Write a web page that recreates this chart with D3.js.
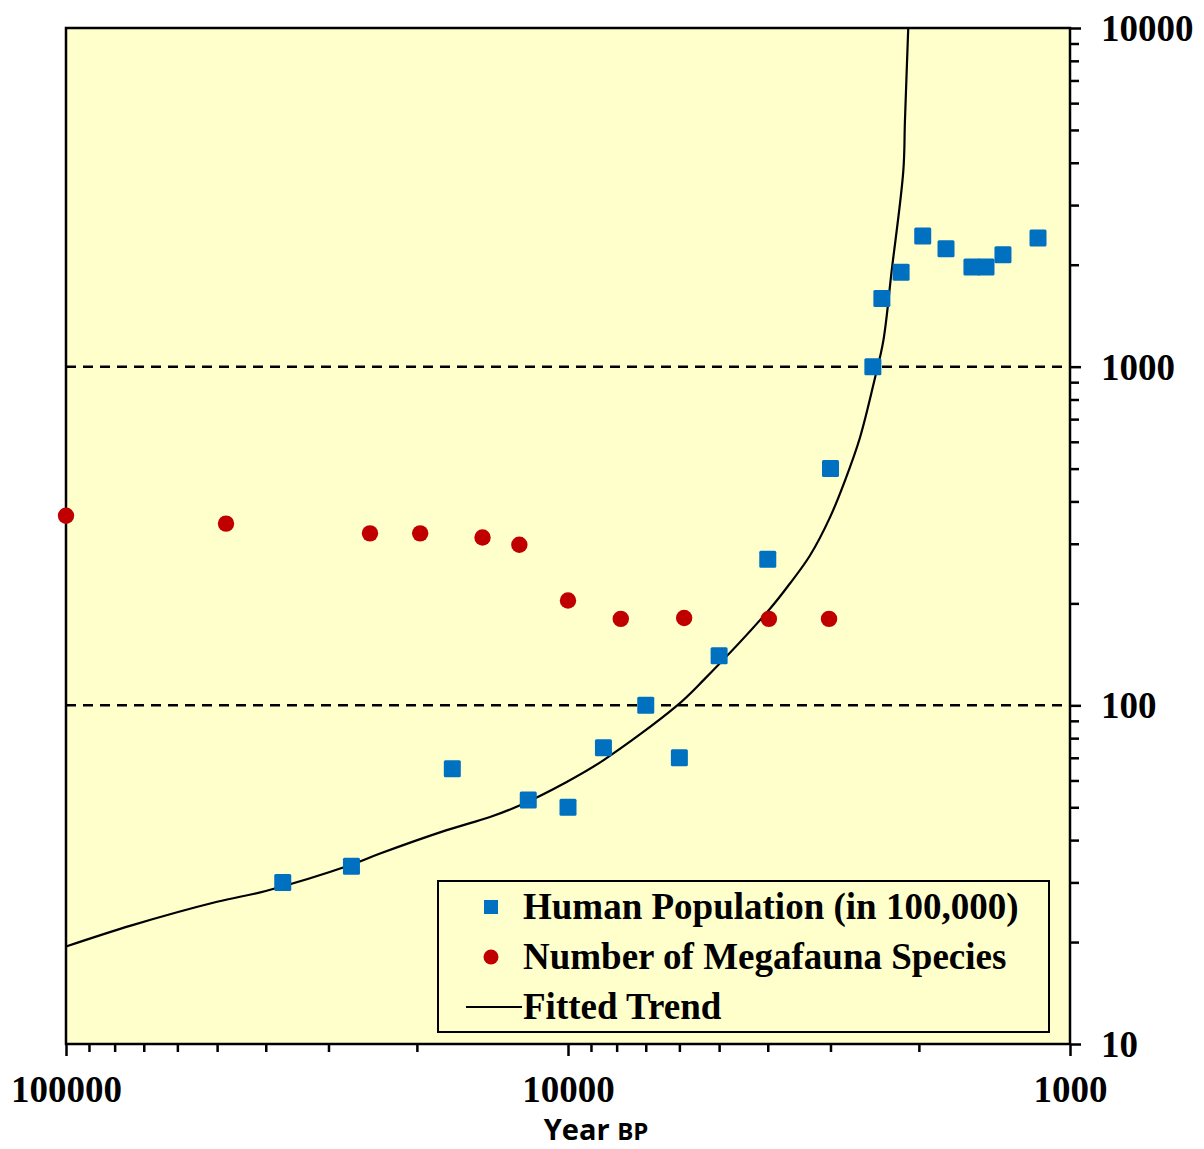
<!DOCTYPE html>
<html>
<head>
<meta charset="utf-8">
<script src="https://cdn.jsdelivr.net/npm/d3@7"></script>
<style>
  html, body { margin: 0; padding: 0; background: #ffffff; }
  svg { display: block; }
</style>
</head>
<body>
<svg id="chart" width="1204" height="1149"></svg>
<script>
// ---- Data ----
const popYears  = [37000, 27000, 17000, 12000, 10000, 8500, 7000, 6000, 5000, 4000, 3000, 2470, 2370, 2170, 1965, 1766, 1568, 1470, 1360, 1158];
const popValues = [30, 33.5, 65, 52.5, 50, 75, 100, 70, 140, 270, 500, 1000, 1590, 1900, 2430, 2230, 1970, 1970, 2140, 2400];

const megaYears  = [100000, 48000, 24800, 19700, 14800, 12500, 10000, 7850, 5870, 3980, 3020];
const megaValues = [363, 344, 322, 322, 313, 298, 204, 180, 181, 180, 180];

const trendYears  = [100000, 74000, 50000, 40000, 27200, 23680, 17440, 14300, 12460, 10060, 8505, 6075, 5377, 3959, 3613, 3296, 3007, 2807, 2620, 2445, 2354, 2266, 2148, 2132, 2100];
const trendValues = [19.4, 22.4, 26.3, 28.3, 33.7, 36.5, 42.8, 46.8, 50.7, 59.4, 68.8, 99.6, 118.5, 192.9, 229, 277, 359, 461, 618, 929, 1194, 1918, 3785, 5324, 10000];

const xMajorTicks = [100000, 10000, 1000];
const yMajorTicks = [10, 100, 1000, 10000];
const gridValues  = [100, 1000];

const legendLabels = ["Human Population (in 100,000)", "Number of Megafauna Species", "Fitted Trend"];
const xTitle = "Year";
const xTitleSub = "BP";

// ---- Layout ----
const svg = d3.select("#chart");
const L = 66, R = 1070, T = 28, B = 1044;
const bgColor = "#FFFFCC";
const blue = "#0070C0", red = "#C00000";

const x = d3.scaleLog().domain([100000, 1000]).range([L, R]);
const y = d3.scaleLog().domain([10, 10000]).range([B, T]);

const minorX = [];
[10000, 1000].forEach(base => { for (let k = 2; k <= 9; k++) minorX.push(base * k); });
const minorY = [];
[10, 100, 1000].forEach(base => { for (let k = 2; k <= 9; k++) minorY.push(base * k); });

// background
svg.append("rect").attr("x", L).attr("y", T).attr("width", R - L).attr("height", B - T)
  .attr("fill", bgColor);

// dashed gridlines
svg.append("g").selectAll("line").data(gridValues).join("line")
  .attr("x1", L).attr("x2", R)
  .attr("y1", d => y(d)).attr("y2", d => y(d))
  .attr("stroke", "#000").attr("stroke-width", 2.5).attr("stroke-dasharray", "10,7");

// axes
const serif = "'Liberation Serif', 'Times New Roman', serif";

const xMinorAxis = svg.append("g").attr("transform", `translate(0,${B})`)
  .call(d3.axisBottom(x).tickValues(minorX).tickSize(8).tickFormat(""));
const xMajorAxis = svg.append("g").attr("transform", `translate(0,${B})`)
  .call(d3.axisBottom(x).tickValues(xMajorTicks).tickSize(12).tickFormat(d3.format("d")));
const yMinorAxis = svg.append("g").attr("transform", `translate(${R},0)`)
  .call(d3.axisRight(y).tickValues(minorY).tickSize(9).tickFormat(""));
const yMajorAxis = svg.append("g").attr("transform", `translate(${R},0)`)
  .call(d3.axisRight(y).tickValues(yMajorTicks).tickSize(11).tickFormat(d3.format("d")));

[xMinorAxis, xMajorAxis, yMinorAxis, yMajorAxis].forEach(g => {
  g.select(".domain").remove();
  g.selectAll(".tick line").attr("stroke", "#000").attr("stroke-width", 2.5);
});
xMajorAxis.selectAll(".tick text")
  .attr("y", 58).attr("dy", null)
  .attr("font-family", serif).attr("font-weight", "bold").attr("font-size", 37)
  .attr("fill", "#000");
yMajorAxis.selectAll(".tick text")
  .attr("x", 31).attr("dy", "0.34em")
  .attr("text-anchor", "start")
  .attr("font-family", serif).attr("font-weight", "bold").attr("font-size", 37)
  .attr("fill", "#000");

// trend line
const line = d3.line()
  .x((d, i) => x(trendYears[i]))
  .y((d, i) => y(trendValues[i]))
  .curve(d3.curveCatmullRom.alpha(0.5));
svg.append("path").datum(trendValues)
  .attr("d", line)
  .attr("fill", "none").attr("stroke", "#000").attr("stroke-width", 2.2);

// frame
svg.append("rect").attr("x", L).attr("y", T).attr("width", R - L).attr("height", B - T)
  .attr("fill", "none").attr("stroke", "#000").attr("stroke-width", 2.5);

// megafauna points
svg.append("g").selectAll("circle").data(megaValues).join("circle")
  .attr("cx", (d, i) => x(megaYears[i]))
  .attr("cy", d => y(d))
  .attr("r", 8.2)
  .attr("fill", red);

// population points
const sq = 17;
svg.append("g").selectAll("rect").data(popValues).join("rect")
  .attr("x", (d, i) => x(popYears[i]) - sq / 2)
  .attr("y", d => y(d) - sq / 2)
  .attr("width", sq).attr("height", sq)
  .attr("rx", 1.5)
  .attr("fill", blue);

// legend
const lg = svg.append("g");
lg.append("rect").attr("x", 438).attr("y", 881).attr("width", 611).attr("height", 151)
  .attr("fill", bgColor).attr("stroke", "#000").attr("stroke-width", 2);
lg.append("rect").attr("x", 484).attr("y", 900).attr("width", 14).attr("height", 14).attr("fill", blue);
lg.append("circle").attr("cx", 491).attr("cy", 957).attr("r", 7.5).attr("fill", red);
lg.append("line").attr("x1", 466).attr("x2", 522).attr("y1", 1007).attr("y2", 1007)
  .attr("stroke", "#000").attr("stroke-width", 2.2);
lg.selectAll("text").data(legendLabels).join("text")
  .attr("x", 523)
  .attr("y", (d, i) => 919 + i * 50)
  .attr("font-family", serif).attr("font-weight", "bold").attr("font-size", 37)
  .attr("fill", "#000")
  .text(d => d);

// x title
const xt = svg.append("text")
  .attr("x", 596).attr("y", 1140)
  .attr("text-anchor", "middle")
  .attr("font-family", "'Open Sans', 'Noto Sans', sans-serif").attr("font-weight", "bold")
  .attr("fill", "#000");
xt.append("tspan").attr("font-size", 29).text(xTitle + " ");
xt.append("tspan").attr("font-size", 24).text(xTitleSub);
</script>
</body>
</html>
